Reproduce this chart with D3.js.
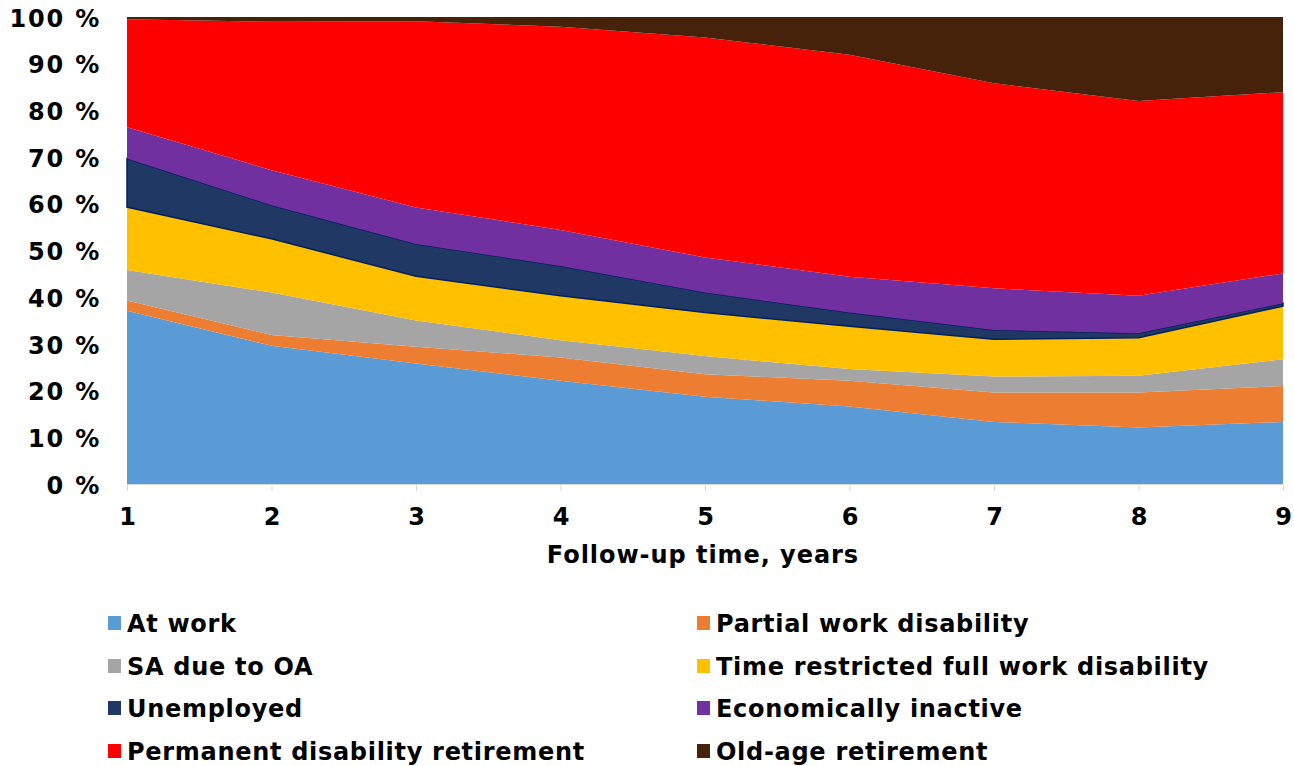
<!DOCTYPE html>
<html>
<head>
<meta charset="utf-8">
<script src="https://cdn.jsdelivr.net/npm/d3@7"></script>
<style>
  html, body { margin: 0; padding: 0; background: #fff; }
  svg text { font-family: 'DejaVu Sans', Verdana, sans-serif; font-weight: bold; fill: #000; }
  .x.axis path, .x.axis line { stroke: #d9d9d9; }
  .y.axis path, .y.axis line { display: none; }
</style>
</head>
<body>
<svg width="1294" height="766"></svg>
<script>
'use strict';

var YEARS = [1, 2, 3, 4, 5, 6, 7, 8, 9];
var Y_TICKS = [0, 10, 20, 30, 40, 50, 60, 70, 80, 90, 100];

var SERIES_NAMES = ['At work', 'Partial work disability', 'SA due to OA', 'Time restricted full work disability',
  'Unemployed', 'Economically inactive', 'Permanent disability retirement', 'Old-age retirement'];
var COLORS = ['#5b9bd5', '#ed7d31', '#a5a5a5', '#ffc000', '#203864', '#7030a0', '#ff0000', '#46220a'];

// shares in %, per follow-up year
var atWork = [37.1, 29.6, 25.8, 22.1, 18.7, 16.6, 13.3, 12.1, 13.3];
var partial = [2.2, 2.3, 3.6, 5.0, 4.8, 5.5, 6.3, 7.5, 7.7];
var saOa = [6.5, 9.1, 5.6, 3.7, 3.9, 2.5, 3.4, 3.6, 5.7];
var timeRestricted = [13.5, 11.5, 9.5, 9.5, 9.3, 9.2, 8.0, 8.1, 11.4];
var unemployed = [10.4, 7.2, 6.9, 6.4, 4.3, 2.9, 2.0, 1.0, 0.6];
var inactive = [6.7, 7.5, 7.8, 7.7, 7.5, 7.7, 8.9, 8.0, 6.4];
var permanent = [23.1, 31.8, 39.9, 43.5, 47.1, 47.5, 43.9, 41.7, 38.8];
var oldAge = [0.5, 1.0, 0.9, 2.1, 4.4, 8.1, 14.2, 18.0, 16.1];

var VALUES = [atWork, partial, saOa, timeRestricted, unemployed, inactive, permanent, oldAge];

var svg = d3.select('svg');
var xScale = d3.scaleLinear().domain([1, 9]).range([127, 1283]);
var yScale = d3.scaleLinear().domain([0, 100]).range([484, 17]);

var rows = YEARS.map(function (yr, i) {
  var r = { year: yr };
  SERIES_NAMES.forEach(function (name, k) { r[name] = VALUES[k][i]; });
  return r;
});

var stacked = d3.stack().keys(SERIES_NAMES)(rows);

var area = d3.area()
  .x(function (d) { return xScale(d.data.year); })
  .y0(function (d) { return yScale(d[0]); })
  .y1(function (d) { return yScale(d[1]); });

svg.append('g').selectAll('path.layer').data(stacked).enter().append('path')
  .attr('class', 'layer')
  .attr('d', area)
  .attr('fill', function (d, i) { return COLORS[i]; })
  .attr('stroke', function (d, i) { return i === 4 ? '#002060' : 'none'; })
  .attr('stroke-width', 1.5);

// x axis
var xAxis = d3.axisBottom(xScale).tickValues(YEARS).tickSize(7).tickSizeOuter(0).tickPadding(17);
var xa = svg.append('g').attr('class', 'x axis').attr('transform', 'translate(0,' + yScale(0) + ')').call(xAxis);
xa.selectAll('text').attr('font-size', 24).attr('font-family', null);

// y axis
var yAxis = d3.axisLeft(yScale).tickValues(Y_TICKS).tickSize(0).tickPadding(26)
  .tickFormat(function (d) { return d + ' %'; });
var ya = svg.append('g').attr('class', 'y axis').attr('transform', 'translate(127,0)').call(yAxis);
ya.selectAll('text').attr('font-size', 24).attr('font-family', null).attr('dy', '0.38em')
  .attr('letter-spacing', 1.8);

svg.append('text')
  .attr('x', (xScale(1) + xScale(9)) / 2 - 2)
  .attr('y', 563)
  .attr('text-anchor', 'middle')
  .attr('font-size', 24)
  .attr('letter-spacing', 0.95)
  .text('Follow-up time, years');

// legend, two columns
var legendCols = [108, 697];
var legendRows = [623, 666, 708, 751];
var legend = svg.append('g').selectAll('g.item').data(SERIES_NAMES).enter().append('g')
  .attr('class', 'item')
  .attr('transform', function (d, i) {
    return 'translate(' + legendCols[i % 2] + ',' + legendRows[Math.floor(i / 2)] + ')';
  });
legend.append('rect')
  .attr('x', 0).attr('y', -7).attr('width', 13).attr('height', 14)
  .attr('fill', function (d, i) { return COLORS[i]; });
legend.append('text')
  .attr('x', 19).attr('y', 0).attr('dy', '0.36em')
  .attr('font-size', 24)
  .attr('letter-spacing', 0.7)
  .text(function (d) { return d; });
</script>
</body>
</html>
